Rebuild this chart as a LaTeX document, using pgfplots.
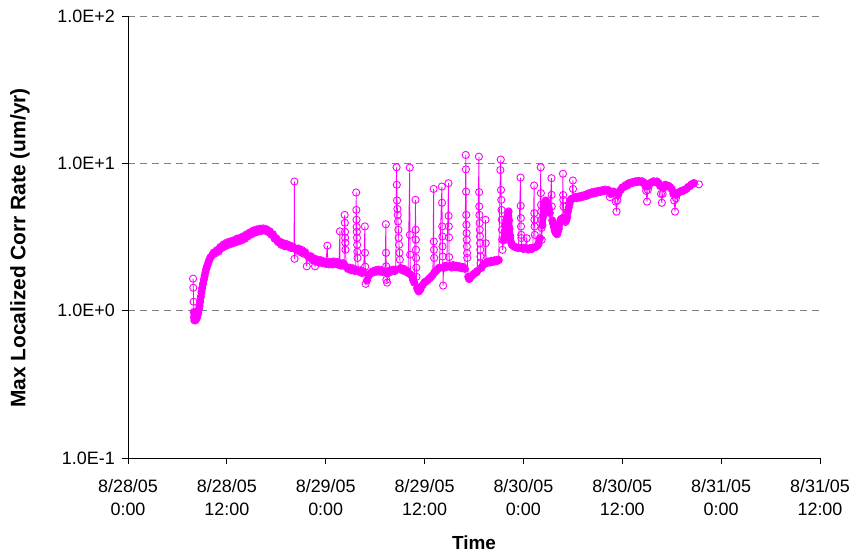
\documentclass[border=0pt]{standalone}
\usepackage{fontspec}
\setmainfont{Liberation Sans}
\usepackage{pgfplots}
\usepackage{pgfplotstable}
\pgfplotsset{compat=1.18}
\definecolor{mag}{RGB}{255,0,255}
\definecolor{gridgray}{RGB}{128,128,128}

% h = hours after 8/28/05 0:00, v = rate in um/yr,
% b = 1 for points of the dense main trace, 0 for spike / dip readings
\pgfplotstableread{
h v b
7.90 1.65 0
7.93 1.43 0
7.96 1.15 0
7.99 0.98 1
8.02 0.90 1
8.06 0.86 1
8.12 0.87 1
8.20 0.86 1
8.28 0.88 1
8.36 0.90 1
8.44 0.93 1
8.52 0.97 1
8.60 1.02 1
8.68 1.08 1
8.76 1.15 1
8.84 1.24 1
8.92 1.33 1
9.00 1.42 1
9.10 1.52 1
9.20 1.62 1
9.30 1.72 1
9.40 1.82 1
9.50 1.92 1
9.62 2.02 1
9.75 2.12 1
9.88 2.22 1
10.0 2.30 1
10.2 2.37 1
10.4 2.48 1
10.6 2.45 1
10.8 2.58 1
11.0 2.52 1
11.2 2.71 1
11.4 2.66 1
11.6 2.82 1
11.8 2.74 1
12.0 2.90 1
12.2 2.80 1
12.4 2.95 1
12.6 2.85 1
12.8 3.00 1
13.0 2.90 1
13.2 3.08 1
13.4 2.95 1
13.6 3.12 1
13.8 3.00 1
14.0 3.20 1
14.2 3.08 1
14.4 3.30 1
14.6 3.20 1
14.8 3.40 1
15.0 3.30 1
15.2 3.50 1
15.4 3.38 1
15.6 3.56 1
15.8 3.44 1
16.0 3.60 1
16.2 3.48 1
16.4 3.62 1
16.6 3.50 1
16.8 3.57 1
17.0 3.42 1
17.2 3.46 1
17.4 3.28 1
17.6 3.30 1
17.8 3.08 1
18.0 3.10 1
18.2 2.92 1
18.4 2.95 1
18.6 2.80 1
18.8 2.88 1
19.0 2.74 1
19.2 2.84 1
19.4 2.72 1
19.6 2.78 1
19.8 2.66 1
20.0 2.72 1
20.15 2.66 1
20.20 7.53 0
20.22 2.25 0
20.3 2.64 1
20.5 2.56 1
20.7 2.64 1
20.9 2.50 1
21.1 2.58 1
21.3 2.44 1
21.5 2.50 1
21.7 2.00 0
21.8 2.36 1
22.0 2.30 1
22.2 2.34 1
22.4 2.20 1
22.6 2.26 1
22.7 2.00 0
22.8 2.16 1
23.0 2.22 1
23.2 2.12 1
23.4 2.20 1
23.6 2.10 1
23.8 2.16 1
24.0 2.08 1
24.2 2.76 0
24.25 2.14 1
24.4 2.06 1
24.6 2.14 1
24.8 2.06 1
25.0 2.16 1
25.2 2.08 1
25.4 2.14 1
25.6 2.04 1
25.72 3.45 0
25.75 2.10 1
25.9 2.02 1
26.1 2.10 1
26.25 2.06 1
26.3 4.47 0
26.32 3.95 0
26.34 3.43 0
26.36 3.12 0
26.38 2.89 0
26.40 2.59 0
26.5 1.98 1
26.7 1.92 1
26.9 1.96 1
27.1 1.88 1
27.3 1.94 1
27.5 1.86 1
27.65 1.90 1
27.70 6.34 0
27.72 4.83 0
27.74 4.14 0
27.76 3.70 0
27.78 3.43 0
27.80 3.12 0
27.82 2.80 0
27.84 2.51 0
27.86 2.28 0
28.0 1.84 1
28.2 1.88 1
28.4 1.80 1
28.6 1.84 1
28.75 3.73 0
28.77 2.47 0
28.79 1.99 0
28.85 1.52 0
29.0 1.60 1
29.2 1.72 1
29.4 1.78 1
29.6 1.84 1
29.8 1.82 1
30.0 1.88 1
30.2 1.84 1
30.4 1.90 1
30.6 1.84 1
30.8 1.88 1
31.0 1.82 1
31.2 1.84 1
31.30 3.86 0
31.32 2.47 0
31.34 2.00 0
31.36 1.62 0
31.45 1.55 0
31.6 1.80 1
31.8 1.88 1
32.0 1.84 1
32.2 1.90 1
32.4 1.86 1
32.5 1.90 1
32.60 9.40 0
32.63 7.15 0
32.66 5.60 0
32.70 4.90 0
32.74 4.47 0
32.78 4.03 0
32.82 3.54 0
32.86 3.12 0
32.90 2.80 0
32.95 2.47 0
33.00 2.22 0
33.1 1.95 1
33.3 1.88 1
33.5 1.92 1
33.7 1.84 1
33.9 1.86 1
34.0 1.80 1
34.2 9.35 0
34.22 3.27 0
34.24 2.40 0
34.3 1.76 1
34.5 1.70 1
34.6 1.62 1
34.75 1.55 1
34.9 5.65 0
34.92 3.54 0
34.94 3.03 0
34.96 2.59 0
34.98 2.28 0
35.00 1.96 0
35.02 1.70 0
35.1 1.42 1
35.2 1.38 1
35.3 1.35 1
35.4 1.38 1
35.5 1.40 1
35.6 1.46 1
35.8 1.50 1
36.0 1.56 1
36.2 1.58 1
36.4 1.62 1
36.6 1.66 1
36.8 1.70 1
37.0 1.75 1
37.1 6.70 0
37.12 2.95 0
37.14 2.59 0
37.16 2.28 0
37.2 1.82 1
37.4 1.86 1
37.6 1.92 1
37.8 1.96 1
38.1 6.96 0
38.12 5.40 0
38.14 3.73 0
38.16 3.19 0
38.18 2.73 0
38.20 2.33 0
38.25 1.48 0
38.3 1.95 1
38.5 2.02 1
38.7 1.98 1
38.9 7.33 0
38.92 4.40 0
38.94 3.73 0
38.96 3.14 0
38.98 2.31 0
39.1 2.02 1
39.3 1.96 1
39.5 2.04 1
39.7 1.98 1
39.9 2.02 1
40.1 1.96 1
40.3 2.00 1
40.5 1.94 1
40.7 1.98 1
40.9 1.92 1
41.0 11.4 0
41.02 9.10 0
41.04 6.43 0
41.06 4.47 0
41.08 3.83 0
41.10 3.36 0
41.12 3.03 0
41.14 2.73 0
41.16 2.46 0
41.18 2.28 0
41.3 1.70 1
41.4 1.64 1
41.5 1.66 1
41.7 1.72 1
41.9 1.76 1
42.1 1.80 1
42.3 1.82 1
42.4 1.86 1
42.6 11.1 0
42.62 6.38 0
42.64 5.10 0
42.66 4.47 0
42.68 3.93 0
42.70 3.54 0
42.72 3.19 0
42.74 2.87 0
42.76 2.59 0
42.78 2.33 0
42.80 2.10 0
42.9 1.95 1
43.1 2.05 1
43.3 2.08 1
43.4 4.14 0
43.42 2.87 0
43.5 2.10 1
43.7 2.16 1
43.9 2.12 1
44.1 2.18 1
44.3 2.14 1
44.5 2.20 1
44.7 2.16 1
44.9 2.22 1
45.0 2.20 1
45.2 9.00 0
45.25 10.6 0
45.28 6.60 0
45.31 5.65 0
45.34 4.83 0
45.37 4.14 0
45.40 3.54 0
45.43 3.03 0
45.46 2.59 0
45.6 3.00 1
45.7 3.40 1
45.8 3.80 1
45.9 4.10 1
46.0 4.30 1
46.1 4.50 1
46.2 4.72 1
46.25 4.10 1
46.3 3.60 1
46.4 3.20 1
46.5 2.90 1
46.6 2.80 1
46.8 2.74 1
47.0 2.70 1
47.2 2.68 1
47.4 2.66 1
47.65 8.00 0
47.67 5.15 0
47.69 4.25 0
47.71 3.73 0
47.73 3.27 0
47.75 3.11 0
47.8 2.68 1
48.0 2.62 1
48.2 2.66 1
48.4 3.10 0
48.45 2.64 1
48.6 2.60 1
48.8 2.66 1
49.0 2.62 1
49.15 2.68 1
49.3 7.07 0
49.32 4.59 0
49.34 4.14 0
49.36 3.73 0
49.38 3.27 0
49.5 2.70 1
49.7 2.76 1
49.85 2.85 1
50.0 3.10 1
50.1 9.40 0
50.12 6.28 0
50.14 5.23 0
50.16 4.72 0
50.18 4.14 0
50.20 3.64 0
50.22 3.03 0
50.3 3.80 1
50.4 4.40 1
50.5 5.00 1
50.6 5.40 1
50.7 5.60 1
50.8 5.50 1
50.9 5.30 1
51.0 5.10 1
51.1 4.90 1
51.2 4.60 1
51.4 7.93 0
51.42 6.11 0
51.44 5.10 0
51.5 4.10 1
51.6 3.90 1
51.7 3.70 1
51.8 3.50 1
51.9 3.40 1
52.0 3.35 1
52.1 3.30 1
52.2 3.45 1
52.3 3.60 1
52.4 3.90 1
52.5 4.10 1
52.6 4.20 1
52.7 4.20 1
52.8 8.50 0
52.82 6.10 0
52.84 5.65 0
52.86 5.10 0
52.9 4.30 1
53.0 4.10 1
53.1 4.00 1
53.2 4.10 1
53.3 4.30 1
53.4 4.70 1
53.5 5.00 1
53.6 5.30 1
53.7 5.60 1
53.8 5.70 1
53.9 5.75 1
54.0 7.65 0
54.02 6.70 0
54.1 5.80 1
54.3 5.90 1
54.5 5.80 1
54.7 5.96 1
54.9 5.86 1
55.1 6.04 1
55.3 5.94 1
55.5 6.12 1
55.7 6.02 1
55.9 6.26 1
56.1 6.16 1
56.3 6.36 1
56.5 6.24 1
56.7 6.44 1
56.9 6.32 1
57.1 6.50 1
57.3 6.38 1
57.5 6.56 1
57.7 6.46 1
57.9 6.64 1
58.1 6.52 1
58.3 6.58 1
58.5 5.90 0
58.6 6.20 1
58.7 6.34 1
58.9 6.44 1
59.0 6.36 1
59.2 5.50 0
59.3 4.70 0
59.4 5.60 0
59.5 6.10 1
59.6 6.40 1
59.8 6.60 1
60.0 6.86 1
60.2 6.90 1
60.4 7.12 1
60.6 7.08 1
60.8 7.34 1
61.0 7.28 1
61.2 7.46 1
61.4 7.40 1
61.6 7.56 1
61.8 7.46 1
62.0 7.60 1
62.2 7.48 1
62.4 7.56 1
62.6 7.42 1
62.8 7.00 1
62.9 6.50 0
63.0 5.50 0
63.1 6.60 0
63.2 7.00 1
63.4 7.36 1
63.6 7.44 1
63.8 7.56 1
64.0 7.44 1
64.2 7.54 1
64.4 7.36 1
64.6 7.00 1
64.7 6.20 0
64.8 5.40 0
64.9 6.20 0
65.0 6.80 1
65.2 7.16 1
65.4 7.08 1
65.6 7.04 1
65.8 6.90 1
66.0 6.70 1
66.2 6.20 1
66.3 5.60 0
66.4 4.70 0
66.5 5.80 0
66.6 6.10 1
66.8 6.34 1
67.0 6.40 1
67.2 6.52 1
67.4 6.50 1
67.6 6.64 1
67.8 6.70 1
68.0 6.92 1
68.2 7.00 1
68.4 7.20 1
68.6 7.28 1
68.7 7.35 1
69.3 7.20 0
}\corrdata

\begin{document}
\begin{tikzpicture}
\useasboundingbox (-128bp,-94bp) rectangle (728bp,458bp);
\begin{axis}[
  at={(0,0)}, anchor=south west,
  scale only axis, width=692bp, height=442bp,
  ymode=log, ymin=0.1, ymax=100,
  xmin=0, xmax=84,
  axis x line=bottom, axis y line=left,
  axis line style={-, black, line width=0.75bp},
  xtick={0,12,...,84},
  xticklabels={8/28/05\\0:00,8/28/05\\12:00,8/29/05\\0:00,8/29/05\\12:00,
    8/30/05\\0:00,8/30/05\\12:00,8/31/05\\0:00,8/31/05\\12:00},
  xticklabel style={align=center, font=\fontsize{18}{23}\selectfont, yshift=-12bp},
  ytick={0.1,1,10,100},
  yticklabels={1.0E-1,1.0E+0,1.0E+1,1.0E+2},
  yticklabel style={font=\fontsize{18}{22}\selectfont, xshift=-4bp},
  yminorticks=false,
  tick align=outside, major tick length=5.7bp,
  tick style={black, line width=0.75bp},
  ymajorgrids,
  grid style={gridgray, line width=0.9bp, dash pattern=on 7bp off 5bp},
  xlabel={Time},
  ylabel={Max Localized Corr Rate (um/yr)},
  xlabel style={at={(axis description cs:0.5,-0.192)}, anchor=center,
    font=\fontsize{19}{22}\selectfont\bfseries},
  ylabel style={at={(axis description cs:-0.156,0.475)}, anchor=center,
    font=\fontsize{21}{24}\selectfont\bfseries},
]
% dense main trace: the overlapping samples read as a solid band
\addplot[mag, line width=6.5bp, line join=round, line cap=round,
  unbounded coords=discard,
  restrict expr to domain={\thisrow{b}}{0.5:1.5}]
  table[x=h, y=v] {\corrdata};
% every sample, open circles joined by a thin line
\addplot[mag, line width=0.8bp, mark=o, mark size=3.6bp,
  mark options={solid, line width=0.9bp}] table[x=h, y=v] {\corrdata};
\end{axis}
\end{tikzpicture}
\end{document}
